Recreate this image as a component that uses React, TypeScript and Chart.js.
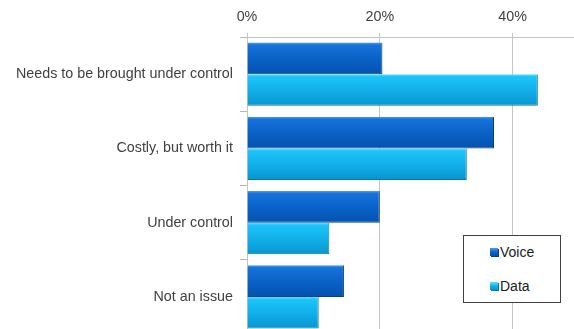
import React, { useEffect, useRef } from "react";
import { Chart, registerables } from "chart.js";

Chart.register(...registerables);

const categories = [
  "Needs to be brought under control",
  "Costly, but worth it",
  "Under control",
  "Not an issue",
];
const voiceValues = [20.4, 37.2, 20.0, 14.6];
const dataValues = [43.8, 33.1, 12.4, 10.8];
const xTickValues = [0, 20, 40];
const seriesNames = ["Voice", "Data"];

const FONT = "'Liberation Sans', Arial, sans-serif";
const TEXT = "#404040";

const STOPS: [number, string][][] = [
  [
    [0, "#4b9bf0"],
    [0.08, "#1672da"],
    [0.5, "#0a62c8"],
    [1, "#0452ae"],
  ],
  [
    [0, "#66e2ff"],
    [0.08, "#1cc4fa"],
    [0.5, "#12b0ea"],
    [1, "#0896cf"],
  ],
];
const BORDERS = ["#043f8c", "#0676a6"];
const FLAT = ["#0a62c8", "#12b0ea"];

const gradientPlugin = {
  id: "barGradient",
  beforeDatasetsDraw(chart: any) {
    const ctx = chart.ctx;
    chart.data.datasets.forEach((_ds: any, di: number) => {
      const meta = chart.getDatasetMeta(di);
      meta.data.forEach((el: any) => {
        const { y, height } = el.getProps(["y", "height"], true);
        const top = y - height / 2;
        const bottom = y + height / 2;
        const g = ctx.createLinearGradient(0, top, 0, bottom);
        STOPS[di].forEach(([o, c]) => g.addColorStop(o, c));
        if (Object.isFrozen(el.options)) el.options = { ...el.options };
        el.options.backgroundColor = g;
      });
    });
  },
};

export default function App() {
  const ref = useRef<HTMLCanvasElement | null>(null);

  useEffect(() => {
    if (!ref.current) return;
    const chart = new Chart(ref.current, {
      type: "bar",
      data: {
        labels: categories,
        datasets: [
          {
            label: seriesNames[0],
            data: voiceValues,
            backgroundColor: () => FLAT[0],
            borderColor: BORDERS[0],
            borderWidth: { top: 0, left: 0, right: 1, bottom: 1 },
            borderSkipped: false,
          },
          {
            label: seriesNames[1],
            data: dataValues,
            backgroundColor: () => FLAT[1],
            borderColor: BORDERS[1],
            borderWidth: { top: 0, left: 0, right: 1, bottom: 1 },
            borderSkipped: false,
          },
        ],
      },
      options: {
        indexAxis: "y",
        animation: false,
        responsive: false,
        devicePixelRatio: 1,
        layout: { padding: { left: 0, right: 3, top: 0, bottom: 2 } },
        datasets: {
          bar: { categoryPercentage: 0.85, barPercentage: 1.0 },
        },
        plugins: {
          legend: { display: false },
          tooltip: { enabled: false },
        },
        scales: {
          x: {
            type: "linear",
            position: "top",
            min: 0,
            max: 50,
            afterFit: (s: any) => {
              s.height = 37;
              s.paddingLeft = 0;
              s.paddingRight = 0;
            },
            afterBuildTicks: (s: any) => {
              s.ticks = xTickValues.map((v) => ({ value: v }));
            },
            ticks: {
              padding: 7,
              color: TEXT,
              font: { family: FONT, size: 14.3 },
              callback: (v: any) => v + "%",
            },
            grid: {
              color: "#c4c4c4",
              lineWidth: 1,
              tickLength: 4,
              drawTicks: true,
            },
            border: { display: true, color: "#c4c4c4", width: 1 },
          },
          y: {
            type: "category",
            offset: true,
            afterFit: (s: any) => {
              s.width = 247;
              s.paddingTop = 0;
              s.paddingBottom = 0;
            },
            ticks: {
              padding: 7,
              color: TEXT,
              font: { family: FONT, size: 14.3 },
            },
            grid: {
              offset: true,
              drawOnChartArea: false,
              drawTicks: true,
              tickLength: 7,
              color: "#b8b8b8",
            },
            border: { display: true, color: "#c4c4c4", width: 1 },
          },
        },
      },
      plugins: [gradientPlugin],
    });
    return () => chart.destroy();
  }, []);

  const legendItem = (name: string, i: number, cy: number) => (
    <React.Fragment key={name}>
      <div
        style={{
          position: "absolute",
          left: 490,
          top: cy - 4,
          width: 8,
          height: 8,
          background: `linear-gradient(${STOPS[i][0][1]}, ${STOPS[i][2][1]} 50%, ${STOPS[i][3][1]})`,
          boxShadow: `1px 1px 0 ${BORDERS[i]}`,
        }}
      />
      <div
        style={{
          position: "absolute",
          left: 500,
          top: cy - 9,
          height: 18,
          lineHeight: "18px",
          fontFamily: FONT,
          fontSize: 14,
          color: "#202020",
          whiteSpace: "nowrap",
        }}
      >
        {name}
      </div>
    </React.Fragment>
  );

  return (
    <div
      style={{
        position: "fixed",
        left: 0,
        top: 0,
        width: 574,
        height: 329,
        overflow: "hidden",
        background: "#ffffff",
      }}
    >
      <div style={{ position: "absolute", left: 0, top: 0, width: 582, height: 336 }}>
        <canvas ref={ref} width={582} height={336} style={{ width: 582, height: 336, display: "block" }} />
      </div>
      <div
        style={{
          position: "absolute",
          left: 463,
          top: 235,
          width: 98,
          height: 68,
          boxSizing: "border-box",
          border: "1.5px solid #404040",
          background: "#ffffff",
        }}
      />
      {legendItem(seriesNames[0], 0, 252)}
      {legendItem(seriesNames[1], 1, 286)}
    </div>
  );
}
